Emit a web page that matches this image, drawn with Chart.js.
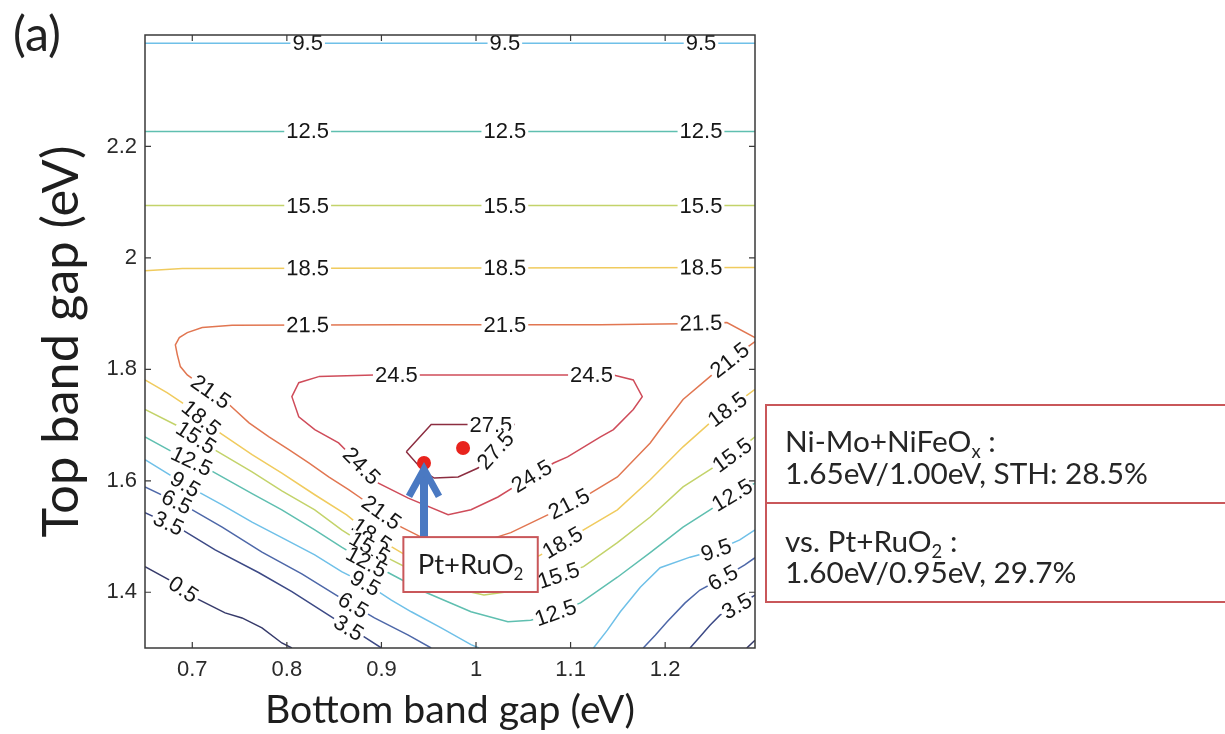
<!DOCTYPE html>
<html><head><meta charset="utf-8">
<script src="https://cdn.jsdelivr.net/npm/chart.js@4.4.1/dist/chart.umd.min.js"></script>
<style>html,body{margin:0;padding:0;background:#fff;}#wrap{width:1225px;height:734px;}</style>
</head><body><div id="wrap"><canvas id="c" width="1225" height="734"></canvas></div>
<script>
// ---------- data ----------
const xRange = [0.65, 1.295];
const yRange = [1.3, 2.4];
const xTickVals = [0.7, 0.8, 0.9, 1.0, 1.1, 1.2];
const yTickVals = [1.4, 1.6, 1.8, 2.0, 2.2];
const levels = ['0.5','3.5','6.5','9.5','12.5','15.5','18.5','21.5','24.5','27.5'];

const c0_5a = [[0.65,1.446],[0.6789,1.419],[0.7032,1.390],[0.7347,1.363],[0.7526,1.354],[0.7737,1.336],[0.7947,1.309],[0.8053,1.30]];
const c0_5b = [[1.2863,1.30],[1.295,1.314]];
const c3_5a = [[0.65,1.543],[0.6895,1.512],[0.7242,1.476],[0.7705,1.435],[0.8053,1.401],[0.8442,1.359],[0.8653,1.336],[0.8789,1.323],[0.90,1.30]];
const c3_5b = [[1.2263,1.30],[1.2368,1.320],[1.2474,1.341],[1.2579,1.359],[1.2758,1.375],[1.295,1.395]];
const c6_5a = [[0.65,1.589],[0.6968,1.551],[0.7316,1.517],[0.7737,1.472],[0.8158,1.433],[0.8547,1.392],[0.8716,1.375],[0.8926,1.354],[0.9284,1.323],[0.9526,1.30]];
const c6_5b = [[1.1768,1.30],[1.1895,1.323],[1.2021,1.347],[1.2211,1.381],[1.2368,1.404],[1.2611,1.426],[1.2842,1.449],[1.295,1.462]];
const c9_5top = [[0.65,2.385],[1.295,2.385]];
const c9_5a = [[0.65,1.638],[0.6968,1.589],[0.7316,1.557],[0.7632,1.526],[0.7947,1.498],[0.8295,1.467],[0.8579,1.437],[0.8863,1.413],[0.9105,1.386],[0.9316,1.365],[0.9632,1.336],[0.9947,1.306],[1.0032,1.30]];
const c9_5b = [[1.1242,1.30],[1.1389,1.332],[1.1526,1.365],[1.1737,1.409],[1.1947,1.444],[1.2263,1.463],[1.2547,1.476],[1.2789,1.494],[1.295,1.512]];
const c12_5top = [[0.65,2.227],[1.295,2.227]];
const c12_5u = [[0.65,1.679],[0.6789,1.652],[0.7179,1.620],[0.7632,1.577],[0.7947,1.548],[0.8295,1.512],[0.8579,1.481],[0.8842,1.454],[0.9074,1.435],[0.9453,1.401],[0.9947,1.365],[1.0337,1.347],[1.0579,1.350],[1.0842,1.363],[1.1105,1.381],[1.1495,1.427],[1.1842,1.471],[1.2189,1.517],[1.2474,1.548],[1.2716,1.575],[1.295,1.596]];
const c15_5top = [[0.65,2.094],[1.295,2.094]];
const c15_5u = [[0.65,1.728],[0.6863,1.697],[0.7242,1.655],[0.7632,1.616],[0.7947,1.582],[0.8295,1.548],[0.8579,1.512],[0.8874,1.480],[0.9105,1.458],[0.9421,1.431],[0.9842,1.404],[1.0084,1.395],[1.0337,1.401],[1.0547,1.413],[1.0895,1.431],[1.1137,1.446],[1.1495,1.489],[1.1842,1.535],[1.2189,1.589],[1.2474,1.620],[1.2716,1.647],[1.295,1.679]];
const c18_5top = [[0.65,1.977],[0.6895,1.981],[1.295,1.983]];
const c18_5u = [[0.65,1.781],[0.6737,1.758],[0.6895,1.740],[0.7242,1.692],[0.7632,1.647],[0.7947,1.614],[0.8295,1.575],[0.8632,1.539],[0.8895,1.503],[0.9211,1.471],[0.9526,1.440],[0.9842,1.427],[1.0158,1.431],[1.0474,1.449],[1.0684,1.467],[1.0916,1.489],[1.1137,1.512],[1.1495,1.548],[1.1842,1.602],[1.2189,1.661],[1.2474,1.704],[1.2684,1.731],[1.295,1.764]];
const c21_5 = [[1.295,1.857],[1.2653,1.884],[1.2179,1.882],[1.1316,1.880],[0.9211,1.880],[0.7421,1.879],[0.7105,1.875],[0.6947,1.866],[0.6863,1.857],[0.6821,1.844],[0.6842,1.826],[0.6874,1.805],[0.6947,1.790],[0.7158,1.764],[0.7389,1.737],[0.76,1.704],[0.7811,1.679],[0.8021,1.656],[0.8232,1.632],[0.8442,1.607],[0.8653,1.584],[0.8842,1.562],[0.90,1.543],[0.9211,1.517],[0.9421,1.499],[0.9737,1.485],[1.0053,1.490],[1.0368,1.507],[1.0758,1.539],[1.10,1.560],[1.1211,1.578],[1.1495,1.607],[1.1842,1.668],[1.1947,1.692],[1.2189,1.746],[1.2474,1.787],[1.2716,1.821],[1.2863,1.839],[1.295,1.850]];
const c24_5 = [[0.8337,1.787],[0.8126,1.776],[0.8053,1.751],[0.8126,1.715],[0.8295,1.692],[0.8547,1.668],[0.8758,1.632],[0.8968,1.596],[0.9284,1.569],[0.9705,1.539],[0.9947,1.548],[1.0232,1.571],[1.0442,1.593],[1.0821,1.632],[1.0968,1.643],[1.1316,1.679],[1.1453,1.692],[1.1663,1.728],[1.1758,1.751],[1.1663,1.781],[1.1453,1.790],[1.0263,1.790],[0.8926,1.790],[0.8337,1.787]];
const c27_5 = [[0.9263,1.652],[0.9526,1.701],[0.9947,1.701],[1.04,1.701],[1.0347,1.683],[1.0211,1.655],[1.0021,1.623],[0.9811,1.607],[0.9558,1.605],[0.9453,1.616],[0.9263,1.652]];

const dotsSTH = [[0.945,1.632],[0.9863,1.659]];
const arrowPts = [[0.945,1.499],[0.945,1.626]];
const ptBoxCorners = [[0.9232,1.499],[1.0653,1.4005]];

// label anchors [level, x, y]
const contourLabels = [
  ['9.5',0.822,2.385],['9.5',1.0305,2.385],['9.5',1.2379,2.385],
  ['12.5',0.822,2.227],['12.5',1.0305,2.227],['12.5',1.2379,2.227],
  ['15.5',0.822,2.094],['15.5',1.0305,2.094],['15.5',1.2379,2.094],
  ['18.5',0.822,1.983],['18.5',1.0305,1.983],['18.5',1.2379,1.983],
  ['21.5',0.822,1.880],['21.5',1.0305,1.880],['21.5',1.2379,1.882],
  ['21.5',0.7189,1.758],['18.5',0.7063,1.706],['15.5',0.7011,1.670],['12.5',0.6968,1.627],
  ['9.5',0.6905,1.588],['6.5',0.6821,1.557],['3.5',0.6716,1.512],['0.5',0.6874,1.397],
  ['21.5',0.90,1.543],['18.5',0.8895,1.503],['15.5',0.8874,1.480],['12.5',0.8842,1.454],
  ['9.5',0.8863,1.4275],['6.5',0.8716,1.381],['3.5',0.8653,1.336],
  ['24.5',0.9158,1.789],['24.5',1.1221,1.789],['24.5',0.8768,1.623],['24.5',1.0611,1.602],
  ['27.5',1.0158,1.699],['27.5',1.0232,1.650],
  ['21.5',1.0979,1.560],['21.5',1.2695,1.814],
  ['18.5',1.0916,1.489],['18.5',1.2684,1.722],
  ['15.5',1.0874,1.430],['15.5',1.2705,1.647],
  ['12.5',1.0842,1.363],['12.5',1.2705,1.575],
  ['9.5',1.2547,1.471],['6.5',1.2611,1.426],['3.5',1.2758,1.375]
];

// ---------- styles ----------
const levelColors = {
  '0.5':'#363a6a','3.5':'#3c4985','6.5':'#4d67a8','9.5':'#6fc0e8','12.5':'#5fbfb0',
  '15.5':'#c3d36a','18.5':'#f0cb5e','21.5':'#e17651','24.5':'#cf4c5a','27.5':'#8c2d40'
};
const pieces = [
  {level:'0.5',pts:c0_5a},{level:'0.5',pts:c0_5b},
  {level:'3.5',pts:c3_5a},{level:'3.5',pts:c3_5b},
  {level:'6.5',pts:c6_5a},{level:'6.5',pts:c6_5b},
  {level:'9.5',pts:c9_5top},{level:'9.5',pts:c9_5a},{level:'9.5',pts:c9_5b},
  {level:'12.5',pts:c12_5top},{level:'12.5',pts:c12_5u},
  {level:'15.5',pts:c15_5top},{level:'15.5',pts:c15_5u},
  {level:'18.5',pts:c18_5top},{level:'18.5',pts:c18_5u},
  {level:'21.5',pts:c21_5},{level:'24.5',pts:c24_5},{level:'27.5',pts:c27_5}
];

const SANS = '"Liberation Sans", Arial, sans-serif';
const HUM = 'Lato, "Open Sans", sans-serif';
const mctx = document.createElement('canvas').getContext('2d');
function fit(text, family, target){ mctx.font = '100px ' + family; return 100 * target / mctx.measureText(text).width; }
const xTitleSize = fit('Bottom band gap (eV)', HUM, 370);
const yTitleSize = fit('Top band gap (eV)', HUM, 392);
const boxTextSize = fit('1.65eV/1.00eV, STH: 28.5%', HUM, 363);
const ptTextSize = fit('Pt+RuO', HUM, 96);
const aSize = fit('(a)', HUM, 48);

function drawRich(ctx, parts, x, y, size, family){
  let cx = x;
  parts.forEach(p => {
    const s = p.sub ? size*0.62 : size;
    ctx.font = s + 'px ' + family;
    ctx.fillText(p.t, cx, y + (p.sub ? size*0.2 : 0));
    cx += ctx.measureText(p.t).width;
  });
  return cx - x;
}
function richWidth(ctx, parts, size, family){
  let w = 0;
  parts.forEach(p => { ctx.font = (p.sub ? size*0.62 : size) + 'px ' + family; w += ctx.measureText(p.t).width; });
  return w;
}

const overlay = {
  id: 'overlay',
  afterDatasetsDraw(chart){
    const {ctx, chartArea: ca, scales: {x, y}} = chart;
    const P = ([a,b]) => [x.getPixelForValue(a), y.getPixelForValue(b)];
    ctx.save();
    // contour labels
    ctx.font = '22px ' + SANS;
    ctx.textAlign = 'center'; ctx.textBaseline = 'middle';
    contourLabels.forEach(([lev, lx, ly]) => {
      const [px, py] = P([lx, ly]);
      let best = null;
      pieces.forEach(p => {
        if (p.level !== lev) return;
        const pp = p.pts.map(P);
        const cum = [0];
        for (let i = 1; i < pp.length; i++) cum.push(cum[i-1] + Math.hypot(pp[i][0]-pp[i-1][0], pp[i][1]-pp[i-1][1]));
        for (let i = 0; i < pp.length-1; i++) {
          const [ax, ay] = pp[i], [bx, by] = pp[i+1];
          const dx = bx-ax, dy = by-ay, L2 = dx*dx+dy*dy;
          let t = L2 ? ((px-ax)*dx + (py-ay)*dy)/L2 : 0; t = Math.max(0, Math.min(1, t));
          const qx = ax+t*dx, qy = ay+t*dy, d = (qx-px)**2 + (qy-py)**2;
          if (!best || d < best.d) best = {d, qx, qy, s: cum[i] + t*Math.sqrt(L2), pp, cum};
        }
      });
      if (!best) return;
      const at = (s) => {
        const {pp, cum} = best; s = Math.max(0, Math.min(cum[cum.length-1], s));
        for (let i = 0; i < pp.length-1; i++) if (s <= cum[i+1] || i === pp.length-2) {
          const L = cum[i+1]-cum[i] || 1, t = (s-cum[i])/L;
          return [pp[i][0] + t*(pp[i+1][0]-pp[i][0]), pp[i][1] + t*(pp[i+1][1]-pp[i][1])];
        }
      };
      const a1 = at(best.s - 18), a2 = at(best.s + 18);
      let ang = Math.atan2(a2[1]-a1[1], a2[0]-a1[0]);
      if (ang > Math.PI/2) ang -= Math.PI;
      if (ang < -Math.PI/2) ang += Math.PI;
      ctx.save();
      ctx.translate(best.qx, best.qy); ctx.rotate(ang);
      const w = ctx.measureText(lev).width;
      ctx.fillStyle = '#fff'; ctx.fillRect(-w/2-2, -8, w+4, 16);
      ctx.fillStyle = '#161616'; ctx.fillText(lev, 0, 1);
      ctx.restore();
    });

    // arrow
    const [t0x, t0y] = P(arrowPts[0]), [t1x, t1y] = P(arrowPts[1]);
    ctx.strokeStyle = '#4a79c2'; ctx.lineWidth = 8; ctx.lineCap = 'butt';
    ctx.beginPath(); ctx.moveTo(t0x, t0y); ctx.lineTo(t1x, t1y + 6); ctx.stroke();
    ctx.lineWidth = 7; ctx.lineJoin = 'miter';
    ctx.beginPath(); ctx.moveTo(t1x - 15, t1y + 30); ctx.lineTo(t1x, t1y + 3); ctx.lineTo(t1x + 15, t1y + 30); ctx.stroke();

    // Pt+RuO2 box
    const [bx0, by0] = P(ptBoxCorners[0]), [bx1, by1] = P(ptBoxCorners[1]);
    ctx.fillStyle = '#fff'; ctx.fillRect(bx0, by0, bx1-bx0, by1-by0);
    ctx.strokeStyle = '#c9575a'; ctx.lineWidth = 2; ctx.strokeRect(bx0, by0, bx1-bx0, by1-by0);
    ctx.fillStyle = '#1e1e1e'; ctx.textAlign = 'left'; ctx.textBaseline = 'alphabetic';
    const ptParts = [{t:'Pt+RuO'},{t:'2',sub:true}];
    const pw = richWidth(ctx, ptParts, ptTextSize, HUM);
    drawRich(ctx, ptParts, (bx0+bx1)/2 - pw/2, (by0+by1)/2 + ptTextSize*0.36, ptTextSize, HUM);

    // frame and inward ticks
    ctx.strokeStyle = '#3a3a3a'; ctx.lineWidth = 1.5;
    ctx.strokeRect(ca.left, ca.top, ca.right-ca.left, ca.bottom-ca.top);
    ctx.lineWidth = 1.2;
    ctx.beginPath();
    xTickVals.forEach(v => { const px = x.getPixelForValue(v);
      ctx.moveTo(px, ca.bottom); ctx.lineTo(px, ca.bottom-6); ctx.moveTo(px, ca.top); ctx.lineTo(px, ca.top+6); });
    yTickVals.forEach(v => { const py = y.getPixelForValue(v);
      ctx.moveTo(ca.left, py); ctx.lineTo(ca.left+6, py); ctx.moveTo(ca.right, py); ctx.lineTo(ca.right-6, py); });
    ctx.stroke();
    ctx.restore();
  },
  afterDraw(chart){
    const ctx = chart.ctx;
    ctx.save();
    ctx.fillStyle = '#222'; ctx.textAlign = 'left'; ctx.textBaseline = 'alphabetic';
    ctx.font = aSize + 'px ' + HUM;
    ctx.fillText('(a)', 13, 51);
    // right info box
    ctx.strokeStyle = '#c9575a'; ctx.lineWidth = 2;
    ctx.strokeRect(766, 405, 480, 197);
    ctx.beginPath(); ctx.moveTo(766, 503); ctx.lineTo(1230, 503); ctx.stroke();
    ctx.fillStyle = '#262626';
    drawRich(ctx, [{t:'Ni-Mo+NiFeO'},{t:'x',sub:true},{t:' :'}], 785, 452, boxTextSize, HUM);
    drawRich(ctx, [{t:'1.65eV/1.00eV, STH: 28.5%'}], 785, 484, boxTextSize, HUM);
    drawRich(ctx, [{t:'vs. Pt+RuO'},{t:'2',sub:true},{t:' :'}], 785, 552, boxTextSize, HUM);
    drawRich(ctx, [{t:'1.60eV/0.95eV, 29.7%'}], 785, 583, boxTextSize, HUM);
    ctx.restore();
  }
};

const datasets = pieces.map(p => ({
  label: p.level,
  data: p.pts.map(([a,b]) => ({x:a, y:b})),
  showLine: true, borderColor: levelColors[p.level], backgroundColor: levelColors[p.level],
  borderWidth: 1.5, pointRadius: 0, pointHoverRadius: 0, tension: 0, fill: false, order: 2
}));
datasets.push({
  label: 'STH points', data: dotsSTH.map(([a,b]) => ({x:a, y:b})),
  showLine: false, pointRadius: 7, pointBackgroundColor: '#e8231d', pointBorderWidth: 0, order: 1
});

new Chart(document.getElementById('c'), {
  type: 'scatter',
  data: { datasets },
  options: {
    responsive: false, animation: false, devicePixelRatio: 1,
    layout: { padding: { left: 0, right: 470, top: 35, bottom: 0 } },
    plugins: { legend: { display: false }, tooltip: { enabled: false } },
    scales: {
      x: {
        type: 'linear', min: xRange[0], max: xRange[1],
        afterBuildTicks: s => { s.ticks = xTickVals.map(v => ({value: v})); },
        afterFit: s => { s.height = 86; },
        grid: { display: false, drawTicks: false }, border: { display: false },
        ticks: { font: { family: SANS, size: 22 }, color: '#2a2a2a', padding: 9, autoSkip: false, maxRotation: 0,
                 callback: v => String(+(+v).toFixed(2)) },
        title: { display: true, text: 'Bottom band gap (eV)', color: '#1e1e1e',
                 font: { family: HUM, size: xTitleSize }, padding: { top: 0, bottom: 0 } }
      },
      y: {
        type: 'linear', min: yRange[0], max: yRange[1],
        afterBuildTicks: s => { s.ticks = yTickVals.map(v => ({value: v})); },
        afterFit: s => { s.width = 145; },
        grid: { display: false, drawTicks: false }, border: { display: false },
        ticks: { font: { family: SANS, size: 22 }, color: '#2a2a2a', padding: 8, autoSkip: false,
                 callback: v => String(+(+v).toFixed(2)) },
        title: { display: true, text: 'Top band gap (eV)', color: '#1e1e1e',
                 font: { family: HUM, size: yTitleSize }, padding: { top: Math.max(0, 62 - yTitleSize*0.6), bottom: 0 } }
      }
    }
  },
  plugins: [overlay]
});
</script></body></html>
